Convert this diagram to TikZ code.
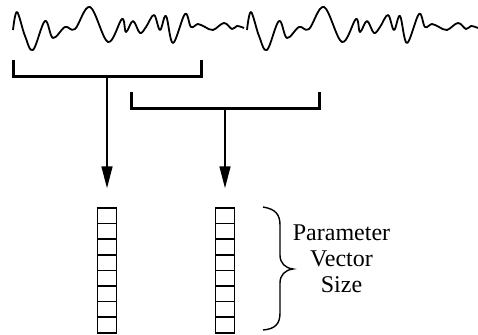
\documentclass[tikz,border=0pt]{standalone}
\usepackage{fontspec}
\setmainfont{Liberation Serif}
\usetikzlibrary{arrows.meta, positioning}

\begin{document}
\begin{tikzpicture}[
  x=1pt, y=-1pt,
  wave/.style={line width=1.8pt, line join=round},
  bracket/.style={line width=3pt},
  stem/.style={line width=1.5pt, -{Triangle[length=22pt, width=11pt]}, shorten >=19pt},
  cell/.style={draw, line width=1.5pt, minimum width=19pt, minimum height=15.6pt, inner sep=0pt},
  ]
  \useasboundingbox (0,0) rectangle (478,334);
  % signal, the same stretch twice
  \foreach \dx in {0,234}
  \draw[wave, xshift=\dx pt] plot[smooth, tension=0.6] coordinates {
    (13,30) (17,12) (25,36) (33,50) (45,21) (53,38) (65,27) (75,29) (90,7)
    (108,42) (122,19) (126,32) (133,21) (140,33) (146,27) (154,15) (160,30)
    (166,16) (173,43) (185,14) (191,27) (198,24) (205,27) (213,30) (224,23)
    (232,29) (237,26) (244,28)};
  % frames
  \draw[bracket] (13,60) -- (13,77) -- (201,77) -- (201,60);
  \draw[bracket] (131,92) -- (131,108) -- (319,108) -- (319,92);
  \coordinate (win1) at (107,77);
  \coordinate (win2) at (225,108);
  % parameter vectors
  \foreach \i in {1,...,8} {
    \node[cell] (va-\i) at (107, 200.2+15.6*\i) {};
    \node[cell] (vb-\i) at (225, 200.2+15.6*\i) {};
  }
  \draw[stem] (win1) -- (va-1.north);
  \draw[stem] (win2) -- (vb-1.north);
  % brace and label
  \draw[line width=1.4pt] (263,207) .. controls (275,209) and (280,214) .. (280,225)
    -- (280,255) .. controls (280,263) and (285,268) .. (293,269)
    .. controls (285,270) and (280,275) .. (280,283)
    -- (280,313) .. controls (280,324) and (275,329) .. (263,330);
  \node[anchor=base, align=center, font=\fontsize{24}{26}\selectfont, inner sep=0pt]
    (size) at (341.5,292) {Parameter\\Vector\\Size};
\end{tikzpicture}
\end{document}
